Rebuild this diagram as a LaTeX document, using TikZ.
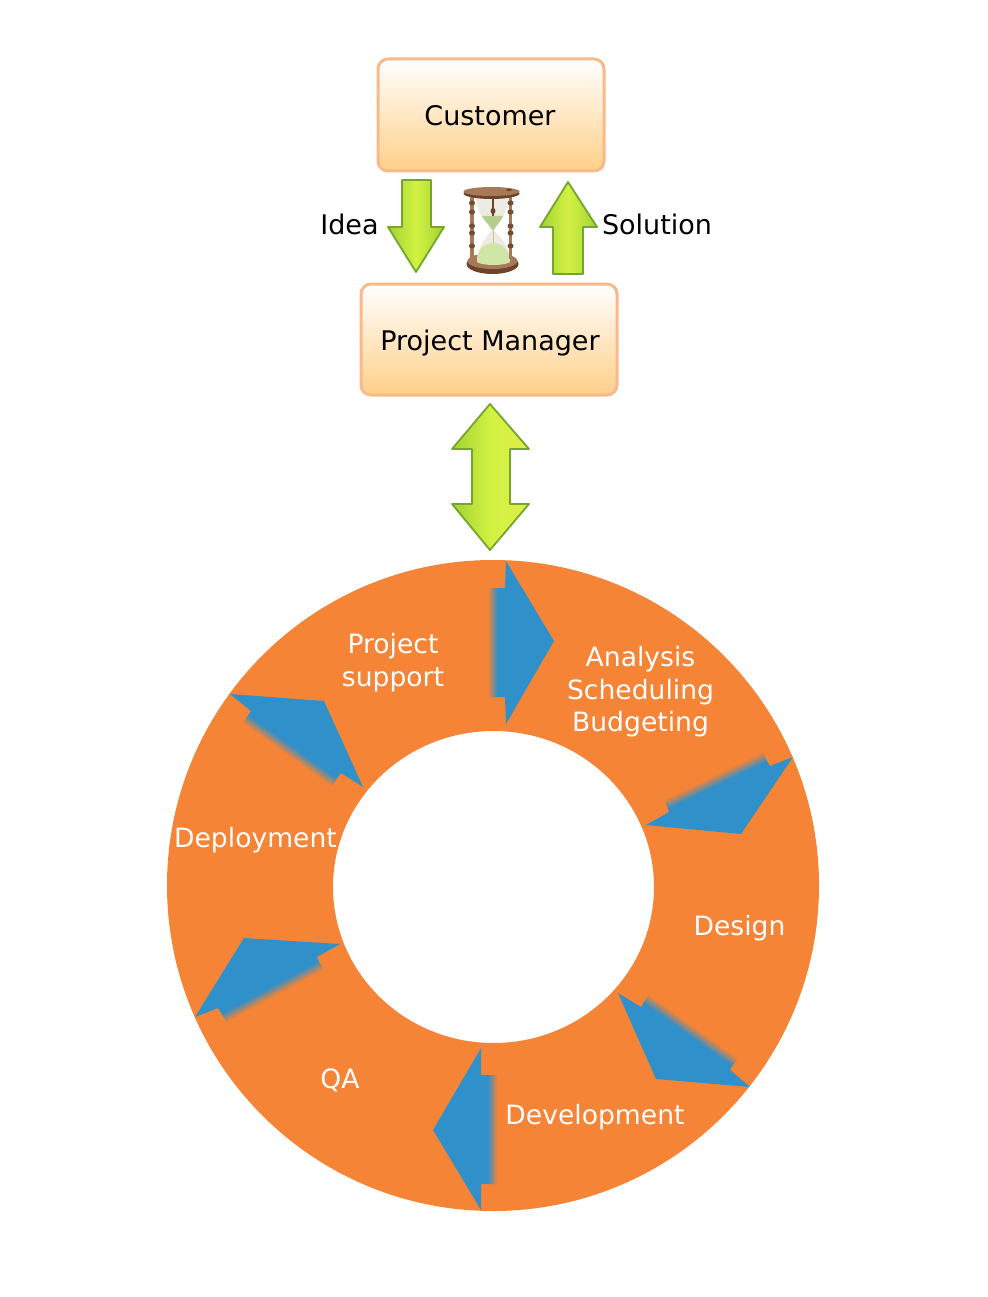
\documentclass[tikz,border=0pt]{standalone}
\usepackage{fontspec}
\setmainfont{DejaVu Sans}
\definecolor{ringor}{HTML}{F68436}
\definecolor{arrowbl}{HTML}{3090CA}
\definecolor{boxedge}{HTML}{F8B98C}
\definecolor{boxlow}{HTML}{FFCF88}
\definecolor{grnedge}{HTML}{74A52C}
\definecolor{grnside}{HTML}{A2D233}
\definecolor{grnmid}{HTML}{D2F242}
\definecolor{grnyel}{HTML}{DDEE48}
\definecolor{brownd}{HTML}{6E4428}
\definecolor{brownm}{HTML}{A67A58}
\definecolor{sandtop}{HTML}{B4CC8E}
\definecolor{sandlow}{HTML}{CFE6A6}
\definecolor{glassg}{HTML}{EDEBE4}
\tikzset{
  x=1pt,y=-1pt,
  boxstyle/.style={draw=boxedge,line width=3pt,rounded corners=10pt,top color=white,bottom color=boxlow},
  blacklabel/.style={text=black,font=\fontsize{27}{32}\selectfont,inner sep=0pt,anchor=base},
  whitelabel/.style={text=white,font=\fontsize{26.6}{32.5}\selectfont,inner sep=0pt,align=center},
  grnarrow/.style={draw=grnedge,line width=1.8pt,line join=round,left color=grnside,right color=grnside,middle color=grnmid},
  grnarrowy/.style={draw=grnedge,line width=1.8pt,line join=round,left color=grnside,right color=grnyel,middle color=grnmid},
  bluefill/.style={fill=arrowbl},
}
% band along a tail edge from A to B, the arrow's interior on the left
\newcommand{\tailfade}[5]{%
  \pgfmathsetmacro{\tfang}{atan2(-(#4-#2),#3-#1)}%
  \pgfmathsetmacro{\tflen}{veclen(#3-#1,#4-#2)}%
  \begin{scope}[shift={(#1,#2)},rotate=\tfang]
    \fill[ringor] (-0.5,1.5) rectangle (\tflen+0.5,-0.2);
    \foreach \i [evaluate=\i as \pct using {100*(\i+0.5)/14}] in {0,...,13}
      \fill[arrowbl!\pct!ringor] (0,{-#5*\i/14}) rectangle (\tflen,{-#5*(\i+1)/14-0.3});
  \end{scope}%
}
\begin{document}
\begin{tikzpicture}
\useasboundingbox (0,0) rectangle (987,1297);
\fill[white] (0,0) rectangle (987,1297);
% boxes
\path[boxstyle] (378,59) rectangle (604,171);
\path[boxstyle] (361,284) rectangle (617,395);
\node[blacklabel] (customer) at (490,125.5) {Customer};
\node[blacklabel] (pm) at (490,350) {Project Manager};
\node[blacklabel] (idea) at (349.5,234.5) {Idea};
\node[blacklabel] (solution) at (657,234.5) {Solution};
% green arrows
\path[grnarrow] (402,180)--(431,180)--(431,227)--(444,227)--(416,272)--(388,227)--(402,227)--cycle;
\path[grnarrow] (568,182)--(597,227)--(583,227)--(583,274)--(553,274)--(553,227)--(540,227)--cycle;
\path[grnarrowy] (490,404)--(529,449)--(510,449)--(510,504)--(529,504)--(490,550)--(452,504)--(472,504)--(472,449)--(452,449)--cycle;
% hourglass
\fill[brownd] (492.5,264) ellipse (26 and 10);
\fill[brownm] (492.5,261) ellipse (25 and 8);
\fill[glassg] (476,197) -- (508,197) .. controls (508,215) and (498,222) .. (494,230)
  .. controls (498,236) and (510,244) .. (510,262) -- (477,262)
  .. controls (477,244) and (488,236) .. (492,230) .. controls (487,222) and (476,215) .. (476,197) -- cycle;
\fill[sandtop] (482,216) -- (503,216) .. controls (500,223) and (496,225) .. (493,231) .. controls (490,225) and (486,223) .. (482,216) -- cycle;
\fill[sandlow] (477,262) .. controls (477,250) and (484,243) .. (493,243) .. controls (502,243) and (510,250) .. (510,262) .. controls (505,266) and (482,266) .. (477,262) -- cycle;
\draw[sandtop,line width=1pt] (493,231) -- (493,243);
\draw[brownd,line width=1.6pt] (493,197) -- (493,216);
\fill[brownd] (493,211) ellipse (2.5 and 3);
\draw[brownm,line width=3.5pt] (472,196) -- (472,259);
\draw[brownm,line width=3.5pt] (510.5,196) -- (510.5,259);
\foreach \yy in {203,212,226,233,246} {
  \fill[brownd!85!brownm] (472,\yy) ellipse (3 and 2.6);
  \fill[brownd!85!brownm] (510.5,\yy) ellipse (3 and 2.6);
}
\fill[brownd] (491.5,193.5) ellipse (28 and 5.5);
\fill[brownm] (491.5,191.5) ellipse (28 and 4.5);
\fill[brownd] (509,190) ellipse (3 and 1.2);
% ring
\fill[ringor,even odd rule] (493,885.5) ellipse (326 and 325.5) (493.5,887) ellipse (160.5 and 156);
% blue arrows
\fill[bluefill] (506,561)--(554,641)--(506,724)--(505,697)--(488,697)--(488,588)--(505,588)--cycle;
\tailfade{488}{588}{488}{697}{10}
\fill[bluefill] (793,757)--(741,834)--(646,825)--(669,812)--(665,800)--(762,753)--(770,766)--cycle;
\tailfade{762}{753}{665}{800}{10}
\fill[bluefill] (618,993)--(656,1079)--(750,1087)--(730,1070)--(737,1058)--(649,995)--(641,1007)--cycle;
\tailfade{737}{1058}{649}{995}{10}
\fill[bluefill] (433,1130)--(481,1048)--(481,1075)--(498,1075)--(498,1184)--(481,1184)--(481,1210)--cycle;
\tailfade{498}{1184}{498}{1075}{10}
\fill[bluefill] (340,944)--(244,938)--(195,1017)--(218,1008)--(227,1022)--(323,970)--(317,957)--cycle;
\tailfade{227}{1022}{323}{970}{10}
\fill[bluefill] (363,787)--(324,701)--(230,694)--(251,711)--(243,723)--(331,786)--(341,773)--cycle;
\tailfade{243}{723}{331}{786}{10}
% ring labels
\node[whitelabel] (support) at (393,662.5) {Project\\support};
\node[whitelabel] (analysis) at (640.5,692) {Analysis\\Scheduling\\Budgeting};
\node[whitelabel] (design) at (739.5,928) {Design};
\node[whitelabel] (dev) at (595,1117) {Development};
\node[whitelabel] (qa) at (340,1080.5) {QA};
\node[whitelabel] (deploy) at (255.5,840) {Deployment};
\end{tikzpicture}
\end{document}
